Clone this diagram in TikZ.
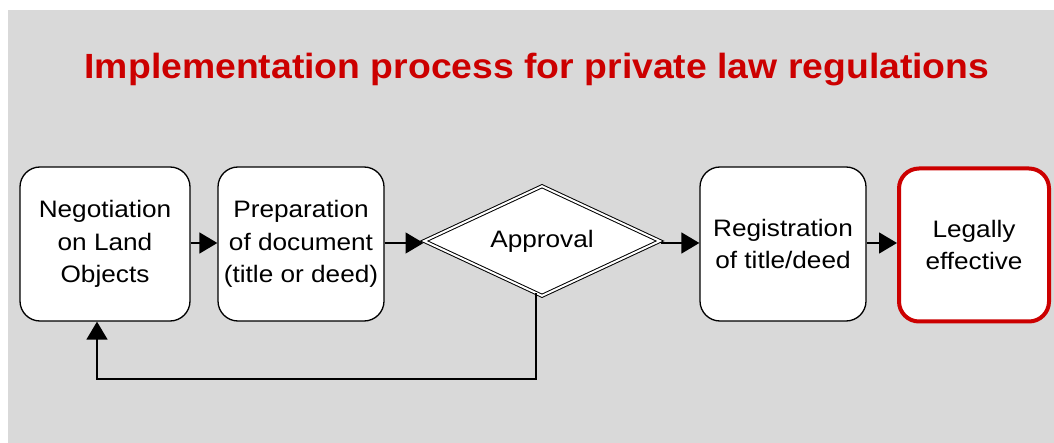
\documentclass[tikz,border=0pt]{standalone}
\usepackage{fontspec}
\setmainfont{Liberation Sans}
\newfontfamily\titlefont[FakeStretch=1.067]{Liberation Sans}
\newfontfamily\boxfont[FakeStretch=1.1]{Liberation Sans}
\usetikzlibrary{shapes.geometric,arrows.meta,calc}
\definecolor{bggray}{RGB}{217,217,217}
\definecolor{titlered}{RGB}{204,0,0}
\tikzset{
  stepbox/.style={draw=black, line width=1.3pt, fill=white, rounded corners=20pt,
    align=center, inner sep=0pt,
    font=\boxfont\fontsize{23.8}{32.5}\selectfont},
  finalbox/.style={stepbox, draw=titlered, line width=4pt},
  decision/.style={diamond, aspect=2.17, draw=black, line width=1pt, double=white, double distance=2pt,
    fill=white, inner sep=0pt, minimum width=236pt, minimum height=110pt,
    font=\boxfont\fontsize{23.8}{32.5}\selectfont},
  conn/.style={line width=1.5pt, -{Triangle[length=18pt,width=21pt]}}
}
\begin{document}
\begin{tikzpicture}[x=1pt,y=-1pt]
\useasboundingbox (0,0) rectangle (1054,443);
\fill[bggray] (8,10) rectangle (1054,443);
\node[text=titlered, font=\titlefont\bfseries\fontsize{35}{40}\selectfont] (title) at (537,70) {Implementation process for private law regulations};
\node[stepbox, minimum width=170pt, minimum height=154pt] (neg) at (105,244) {Negotiation\\on Land\\Objects};
\node[stepbox, minimum width=166pt, minimum height=154pt] (prep) at (301,244) {Preparation\\of document\\(title or deed)};
\node[decision] (appr) at (542,241) {Approval};
\node[stepbox, minimum width=166pt, minimum height=154pt] (reg) at (783,244) {Registration\\of title/deed};
\node[finalbox, minimum width=150pt, minimum height=153pt] (leg) at (974,245) {Legally\\effective};
\draw[conn] (neg.east |- 0,243) -- (prep.west |- 0,243);
\draw[conn] (prep.east |- 0,243) -- (appr.west |- 0,243);
\draw[conn] (appr.east |- 0,243) -- (reg.west |- 0,243);
\draw[conn] (reg.east |- 0,243) -- (leg.west |- 0,243);
\coordinate (fb) at ($(appr.south)+(-6,-3)$);
\draw[conn] (fb) -- (fb |- 0,379) -| (neg.south -| 97,0);
\end{tikzpicture}
\end{document}
